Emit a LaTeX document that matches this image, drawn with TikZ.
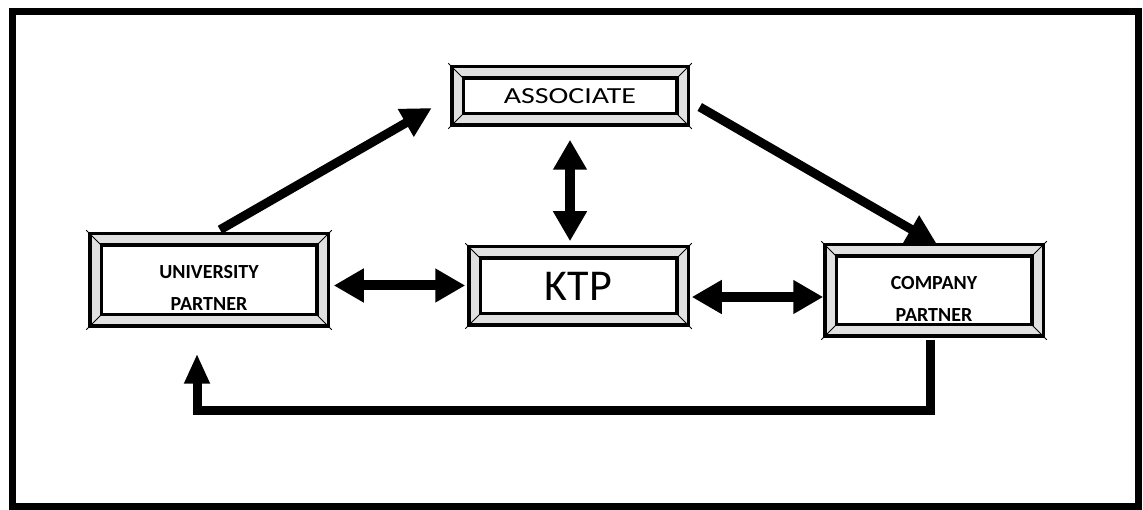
\documentclass[tikz,border=0pt]{standalone}
\usepackage{graphicx}
\usepackage{fontspec}
\setmainfont{Carlito}
\usetikzlibrary{arrows.meta}
\definecolor{bevel}{gray}{0.88}
\newcommand{\droptext}{\rule{0pt}{30pt}}
\tikzset{
  bevelcut/.style={line width=.8pt},
  panel/.style={draw, line width=3.5pt, double=bevel, double distance=8pt, fill=white,
    inner sep=0pt, align=center,
    append after command={
      (\tikzlastnode.north west) ++(-7.5pt,7.5pt) edge[bevelcut] ++(15pt,-15pt)
      (\tikzlastnode.north east) ++(7.5pt,7.5pt) edge[bevelcut] ++(-15pt,-15pt)
      (\tikzlastnode.south west) ++(-7.5pt,-7.5pt) edge[bevelcut] ++(15pt,15pt)
      (\tikzlastnode.south east) ++(7.5pt,-7.5pt) edge[bevelcut] ++(-15pt,15pt)}},
  partner/.style={panel, font=\fontsize{20}{32}\selectfont\bfseries},
  link/.style={line width=9pt, -{Triangle[length=30pt,width=30pt]}},
  twoway/.style={line width=10pt, {Triangle[length=30pt,width=32pt]}-{Triangle[length=30pt,width=32pt]}},
}
\begin{document}
\begin{tikzpicture}[x=1pt,y=-1pt]%[line cap=round,line join=round]
\useasboundingbox (0,0) rectangle (1143,510);
\draw [line width=7pt] (12,12) rectangle (1138,506);
\node [panel, minimum width=225pt, minimum height=47pt, font=\fontsize{23}{28}\selectfont] (assoc) at (570,96) {\scalebox{1.3}[1]{ASSOCIATE}};
\node [partner, minimum width=227pt, minimum height=81pt] (univ) at (209,280) {\droptext UNIVERSITY\\PARTNER};
\node [panel, minimum width=208pt, minimum height=67pt, font=\fontsize{44}{50}\selectfont] (ktp) at (578.5,286) {KTP};
\node [partner, minimum width=207pt, minimum height=80pt] (comp) at (934,290.5) {\droptext COMPANY\\PARTNER};
\draw [link] ([xshift=11pt,yshift=8pt]univ.north) -- ([xshift=-24pt,yshift=-12pt]assoc.west);
\draw [link] ([xshift=15.5pt,yshift=-11pt]assoc.east) -- ([xshift=3pt,yshift=4.5pt]comp.north);
\draw [twoway] ([yshift=-18.5pt]assoc.south) -- ([yshift=9.5pt]assoc.south |- ktp.north);
\draw [twoway] ([xshift=9.5pt,yshift=-5.5pt]univ.east) -- ([xshift=-7.5pt,yshift=0.5pt]ktp.west);
\draw [twoway] ([xshift=7.5pt,yshift=-11pt]ktp.east) -- ([xshift=-5.5pt,yshift=-6.5pt]comp.west);
\coordinate (back) at (197,410);
\draw [link, -{Triangle[length=30pt,width=24pt]}] ([xshift=-4pt,yshift=-7.5pt]comp.south) |- (back) -- ([xshift=-12pt,yshift=-31.5pt]univ.south);
\end{tikzpicture}
\end{document}
